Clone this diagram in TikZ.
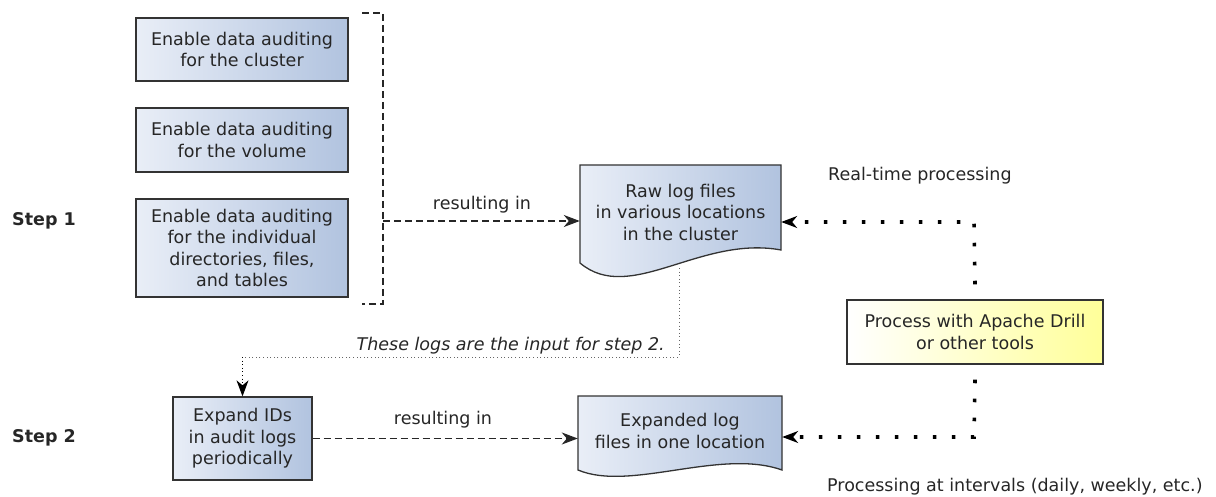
\documentclass[tikz,border=0pt]{standalone}
\usepackage{fontspec}
\setmainfont{DejaVu Sans}
\usetikzlibrary{arrows.meta,backgrounds}
\definecolor{boxlight}{HTML}{E9EEF7}
\definecolor{boxdark}{HTML}{B1C3DF}
\definecolor{edge}{HTML}{333333}
\definecolor{ylight}{HTML}{FFFFFF}
\definecolor{ydark}{HTML}{FFFF99}
\tikzset{
  x=1pt, y=-1pt,
  every node/.style={font=\fontsize{17.5}{21.5}\selectfont, text=black!85},
  bluebox/.style={draw=edge, line width=1.3pt, left color=boxlight, right color=boxdark, align=center, inner sep=0pt},
  yellowbox/.style={draw=edge, line width=1.3pt, left color=ylight, right color=ydark, align=center, inner sep=0pt},
  docshape/.style={draw=edge, line width=1.3pt, left color=boxlight, right color=boxdark},
  doctext/.style={align=center, inner sep=0pt},
  dashline/.style={line width=1.4pt, dash pattern=on 7pt off 4pt, black!85},
  bigdots/.style={line width=3.6pt, dash pattern=on 3.6pt off 15.4pt, black},
  thindots/.style={line width=1pt, dash pattern=on 1pt off 2.6pt, black!60},
  tip/.style={-{Stealth[length=16pt,width=12pt,inset=5pt]}},
  lbl/.style={inner sep=0pt}
}
\begin{document}
\begin{tikzpicture}
\useasboundingbox (0,0) rectangle (1216,497);

% document shapes
\path[docshape] (580,165) -- (781,165) -- (781,250)
  .. controls (700,235) and (630,305) .. (580,263) -- cycle;
\path[docshape] (578,396) -- (782,396) -- (782,470)
  .. controls (720,448) and (630,492) .. (578,470) -- cycle;

% nodes
\node[bluebox, minimum width=212pt, minimum height=63pt] (b1) at (242,49.5) {Enable data auditing\\for the cluster};
\node[bluebox, minimum width=212pt, minimum height=64pt] (b2) at (242,140) {Enable data auditing\\for the volume};
\node[bluebox, minimum width=212pt, minimum height=98pt] (b3) at (242,248) {Enable data auditing\\for the individual\\directories, files,\\and tables};
\node[bluebox, minimum width=139pt, minimum height=83pt] (expand) at (242.5,438.5) {Expand IDs\\in audit logs\\periodically};
\node[yellowbox, minimum width=256pt, minimum height=64pt] (proc) at (975,332) {Process with Apache Drill\\or other tools};

\node[doctext, minimum width=201pt, minimum height=60pt] (raw) at (680.5,212) {Raw log files\\in various locations\\in the cluster};
\node[doctext, minimum width=204pt, minimum height=40pt] (exp) at (680,431) {Expanded log\\files in one location};

% labels
\node[lbl, font=\fontsize{17.5}{21.5}\selectfont\bfseries, anchor=west] (s1) at (12,221) {Step 1};
\node[lbl, font=\fontsize{17.5}{21.5}\selectfont\bfseries, anchor=west] (s2) at (12,438) {Step 2};
\node[lbl] (r1) at (482,205) {resulting in};
\node[lbl] (r2) at (443,420) {resulting in};
\node[lbl, anchor=west] (rt) at (828,176) {Real-time processing};
\node[lbl, anchor=west] (pi) at (827,487) {Processing at intervals (daily, weekly, etc.)};
\node[lbl, anchor=east, font=\fontsize{17.5}{21.5}\selectfont\itshape] (inp) at (665,346) {These logs are the input for step 2.};

% bracket
\draw[dashline] (362,13) -- (383,13) -- (383,304) -- (362,304);
\coordinate (br) at (383,221);
\draw[dashline, tip] (br) -- (br -| raw.west);

% bottom resulting arrow
\draw[dashline, tip] (expand.east) -- (expand.east -| exp.west);

% thin dotted connector
\coordinate (t1) at (679,268);
\coordinate (t2) at (679,357);
\draw[thindots] (t1) -- (t2) -- (t2 -| expand.north);
\draw[thindots, tip, black] (t2 -| expand.north) -- (expand.north);

% heavy dotted connectors
\coordinate (c1) at (974,222);
\coordinate (c2) at (974,437);
\draw[bigdots] ([yshift=15pt]proc.north) -- (c1) -- ([xshift=16pt]c1 -| raw.east);
\draw[tip, line width=1.3pt] ([xshift=8pt]c1 -| raw.east) -- (c1 -| raw.east);
\draw[bigdots] ([yshift=-15pt]proc.south) -- (c2) -- ([xshift=16pt]c2 -| exp.east);
\draw[tip, line width=1.3pt] ([xshift=8pt]c2 -| exp.east) -- (c2 -| exp.east);
\end{tikzpicture}
\end{document}
